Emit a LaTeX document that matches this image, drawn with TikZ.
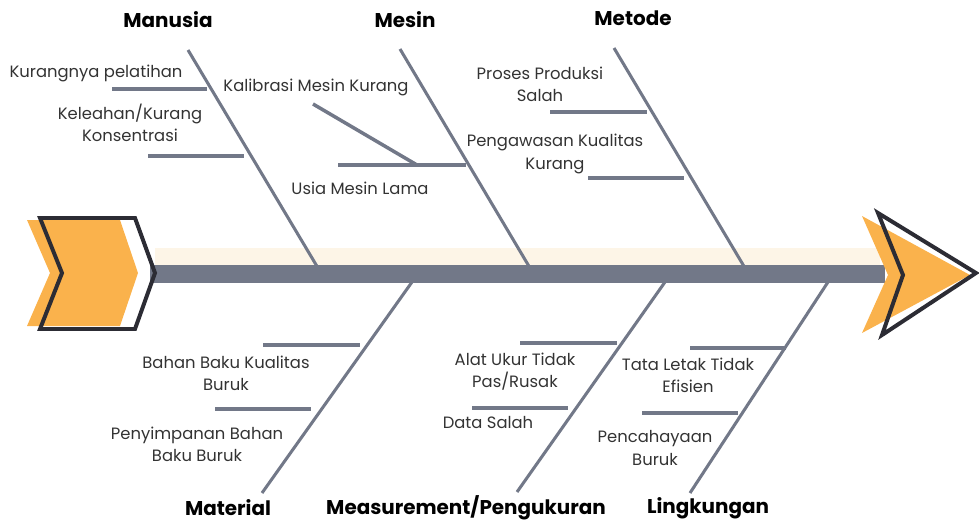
\documentclass[tikz,border=0pt]{standalone}
\usepackage{fontspec}
\setmainfont{Poppins}
\usepackage{xcolor}
\definecolor{bonegray}{HTML}{727888}
\definecolor{tailorange}{HTML}{FAB24C}
\definecolor{bandcream}{HTML}{FDF5E7}
\definecolor{outlinedark}{HTML}{2C2C34}

\begin{document}
\begin{tikzpicture}[x=0.03cm,y=-0.03cm,
    bone/.style={draw=bonegray,line width=2.6pt},
    twig/.style={draw=bonegray,line width=3pt},
    title/.style={font=\fontsize{17}{21}\selectfont\bfseries,text=black},
    cause/.style={font=\fontsize{14}{19}\selectfont,text=black!80,align=center,inner sep=0pt}]
        \useasboundingbox (0,0) rectangle (979,524);
        % spine
        \fill[bandcream] (155,248) rectangle (880,265);
        \fill[bonegray] (150,265) rectangle (885,283);
        % tail and head
        \fill[tailorange] (27,220) -- (120,220) -- (138,273) -- (120,326) -- (27,326) -- (50,273) -- cycle;
        \draw[outlinedark,line width=3.4pt,line join=miter] (40,218) -- (135,218) -- (155,273) -- (135,329) -- (40,329) -- (62,273) -- cycle;
        \fill[tailorange] (862,216) -- (970,275) -- (862,333) -- (888,275) -- cycle;
        \draw[outlinedark,line width=3.4pt,line join=miter] (878,213) -- (976,273) -- (882,335) -- (903,275) -- cycle;

        % bones
        \coordinate (manusiaA) at (188,50);  \coordinate (manusiaB) at (318,268);
        \coordinate (mesinA) at (400,49);    \coordinate (mesinB) at (530,268);
        \coordinate (metodeA) at (614,48);   \coordinate (metodeB) at (745,268);
        \coordinate (materialA) at (412,282);  \coordinate (materialB) at (262,493);
        \coordinate (measureA) at (665,282);   \coordinate (measureB) at (517,492);
        \coordinate (lingkA) at (828,282);     \coordinate (lingkB) at (690,493);
        \foreach \b in {manusia,mesin,metode,material,measure,lingk}
            \draw[bone] (\b A) -- (\b B);

        % twigs
        \coordinate (t1a) at (112,89);  \coordinate (t1b) at (207,89);
        \coordinate (t2a) at (148,156); \coordinate (t2b) at (244,156);
        \coordinate (t3a) at (313,104); \coordinate (t3b) at (417,165);
        \coordinate (t4a) at (338,165); \coordinate (t4b) at (466,165);
        \coordinate (t5a) at (550,112); \coordinate (t5b) at (647,112);
        \coordinate (t6a) at (588,178); \coordinate (t6b) at (684,178);
        \coordinate (t7a) at (263,345); \coordinate (t7b) at (360,345);
        \coordinate (t8a) at (215,409); \coordinate (t8b) at (311,409);
        \coordinate (t9a) at (520,343); \coordinate (t9b) at (617,343);
        \coordinate (t10a) at (472,408); \coordinate (t10b) at (568,408);
        \coordinate (t11a) at (690,348); \coordinate (t11b) at (786,348);
        \coordinate (t12a) at (642,413); \coordinate (t12b) at (738,413);
        \foreach \t in {1,...,12}
            \draw[twig] (t\t a) -- (t\t b);

        % titles
        \node[title] (manusia) at (168,20) {Manusia};
        \node[title] (mesin) at (405,20) {Mesin};
        \node[title] (metode) at (633,18) {Metode};
        \node[title] (material) at (228,508) {Material};
        \node[title] (measure) at (466,508) {Measurement/Pengukuran};
        \node[title] (lingk) at (708,508) {Lingkungan};

        % causes
        \node[cause] (pelatihan) at (96,73) {Kurangnya pelatihan};
        \node[cause] (lelah) at (130,123) {Keleahan/Kurang\\Konsentrasi};
        \node[cause] (kalibrasi) at (316,87) {Kalibrasi Mesin Kurang};
        \node[cause] (usia) at (360,188) {Usia Mesin Lama};
        \node[cause] (proses) at (540,84) {Proses Produksi\\Salah};
        \node[cause] (awas) at (555,154) {Pengawasan Kualitas\\Kurang};
        \node[cause] (bahan) at (226,373) {Bahan Baku Kualitas\\Buruk};
        \node[cause] (simpan) at (197,444) {Penyimpanan Bahan\\Baku Buruk};
        \node[cause] (alat) at (515,372) {Alat Ukur Tidak\\Pas/Rusak};
        \node[cause] (data) at (488,422) {Data Salah};
        \node[cause] (tata) at (688,375) {Tata Letak Tidak\\Efisien};
        \node[cause] (cahaya) at (655,448) {Pencahayaan\\Buruk};
    	\end{tikzpicture}
\end{document}
